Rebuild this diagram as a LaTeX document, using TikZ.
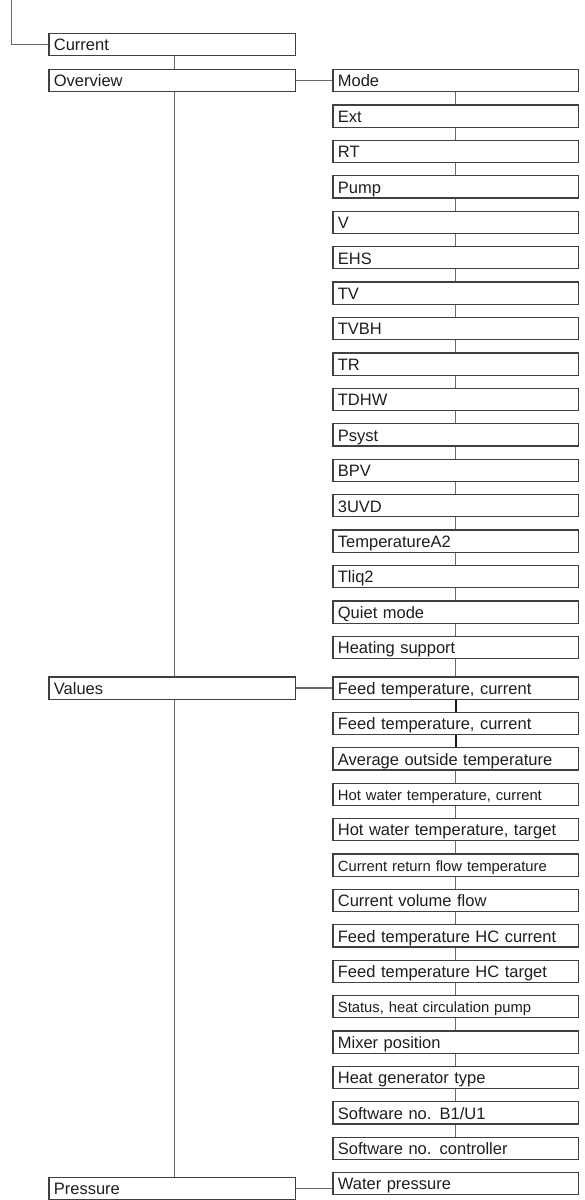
\documentclass[tikz,border=0pt]{standalone}
\usepackage{fontspec}
\setmainfont{Liberation Sans}
\definecolor{boxc}{HTML}{404040}
\definecolor{connc}{HTML}{6A6A6A}
\definecolor{txtc}{HTML}{1E1E1E}
\tikzset{
  box/.style={draw=boxc, line width=1.2pt, fill=white, minimum height=22.2pt,
    text height=12.6pt, text depth=0pt, inner xsep=5pt, inner ysep=0pt,
    anchor=north west, align=left, text=txtc, font=\fontsize{16.5}{18}\selectfont},
  lbox/.style={box, text width=236.8pt},
  rbox/.style={box, text width=235.4pt},
  small/.style={font=\fontsize{14.8}{17}\selectfont},
  conn/.style={draw=connc, line width=1.2pt},
  darkconn/.style={draw=black!90, line width=1.8pt}
}
\begin{document}
\begin{tikzpicture}[x=1pt, y=-1pt]
\useasboundingbox (0,0) rectangle (585,1200);
\fill[white] (0,0) rectangle (585,1200);
\coordinate (top) at (11.7,0);
\coordinate (sp) at (174.3,0);
% left column
\node[lbox] (cur) at (48.3,32.9) {Current};
\node[lbox] (ov) at (48.3,68.9) {Overview};
\node[lbox] (val) at (48.3,676.3) {Values};
\node[lbox] (pres) at (48.3,1176.6) {Pressure};
% overview items
\node[rbox] (o0) at (332.3,68.9) {Mode};
\node[rbox] (o1) at (332.3,104.33) {Ext};
\node[rbox] (o2) at (332.3,139.76) {RT};
\node[rbox] (o3) at (332.3,175.19) {Pump};
\node[rbox] (o4) at (332.3,210.62) {V};
\node[rbox] (o5) at (332.3,246.05) {EHS};
\node[rbox] (o6) at (332.3,281.48) {TV};
\node[rbox] (o7) at (332.3,316.91) {TVBH};
\node[rbox] (o8) at (332.3,352.34) {TR};
\node[rbox] (o9) at (332.3,387.77) {TDHW};
\node[rbox] (o10) at (332.3,423.2) {Psyst};
\node[rbox] (o11) at (332.3,458.63) {BPV};
\node[rbox] (o12) at (332.3,494.06) {3UVD};
\node[rbox] (o13) at (332.3,529.49) {TemperatureA2};
\node[rbox] (o14) at (332.3,564.92) {Tliq2};
\node[rbox] (o15) at (332.3,600.35) {Quiet mode};
\node[rbox] (o16) at (332.3,635.78) {Heating support};
% values items
\node[rbox] (v0) at (332.3,676.3) {Feed temperature, current};
\node[rbox] (v1) at (332.3,711.7) {Feed temperature, current};
\node[rbox] (v2) at (332.3,747.1) {Average outside temperature};
\node[rbox, small] (v3) at (332.3,782.5) {Hot water temperature, current};
\node[rbox] (v4) at (332.3,817.9) {Hot water temperature, target};
\node[rbox, small] (v5) at (332.3,853.3) {Current return flow temperature};
\node[rbox] (v6) at (332.3,888.7) {Current volume flow};
\node[rbox] (v7) at (332.3,924.1) {Feed temperature HC current};
\node[rbox] (v8) at (332.3,959.5) {Feed temperature HC target};
\node[rbox, small] (v9) at (332.3,994.9) {Status, heat circulation pump};
\node[rbox] (v10) at (332.3,1030.3) {Mixer position};
\node[rbox] (v11) at (332.3,1065.7) {Heat generator type};
\node[rbox] (v12) at (332.3,1101.1) {Software no. B1/U1};
\node[rbox] (v13) at (332.3,1136.5) {Software no. controller};
\node[rbox] (wp) at (332.3,1171.9) {Water pressure};
% connectors
\draw[conn] (top) |- (cur.west);
\draw[conn] (cur.south -| sp) -- (ov.north -| sp);
\draw[conn] (ov.south -| sp) -- (val.north -| sp);
\draw[conn] (val.south -| sp) -- (pres.north -| sp);
\draw[conn] (ov.east) -- (o0.west);
\draw[conn] (val.east) -- (v0.west);
\draw[conn] (pres.east) -- (pres.east -| wp.west);
\foreach \a/\b in {o0/o1,o1/o2,o2/o3,o3/o4,o4/o5,o5/o6,o6/o7,o7/o8,o8/o9,o9/o10,o10/o11,o11/o12,o12/o13,o13/o14,o14/o15,o15/o16,o16/v0,
  v2/v3,v3/v4,v4/v5,v5/v6,v6/v7,v7/v8,v8/v9,v9/v10,v10/v11,v11/v12,v12/v13}
  \draw[conn] (\a.south) -- (\b.north);
\draw[darkconn] (v0.south) -- (v1.north);
\draw[darkconn] (v1.south) -- (v2.north);
\end{tikzpicture}
\end{document}
